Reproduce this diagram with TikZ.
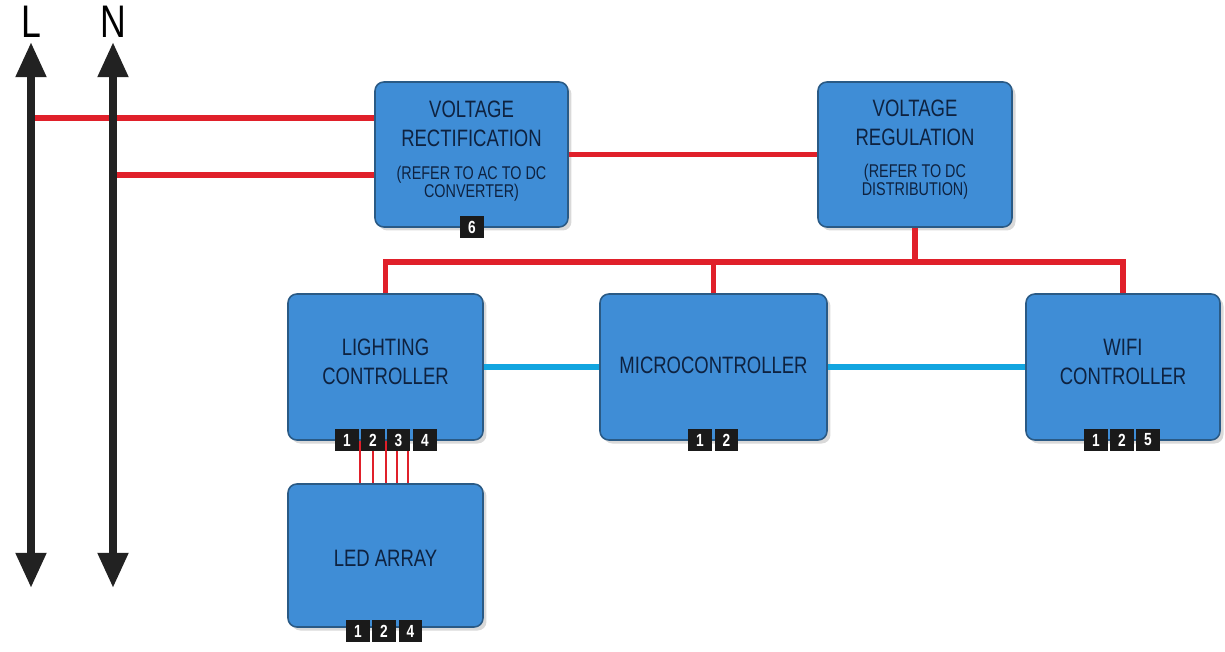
\documentclass[tikz,border=0pt]{standalone}
\usepackage{fontspec}
\setmainfont[FakeStretch=0.78]{Liberation Sans}
\usetikzlibrary{arrows.meta,shadows}
\definecolor{boxblue}{HTML}{3F8DD6}
\definecolor{boxedge}{HTML}{2A5A85}
\definecolor{wirered}{HTML}{E0202A}
\definecolor{wireblue}{HTML}{12A5E0}
\definecolor{txtnavy}{HTML}{0E2240}
\definecolor{badgeblack}{HTML}{1A1A1A}
\definecolor{busblack}{HTML}{222222}
\begin{document}
\begin{tikzpicture}[x=0.02cm,y=-0.02cm,
 block/.style={draw=boxedge, line width=0.9pt, fill=boxblue, rounded corners=5pt,
   drop shadow={opacity=0.3,shadow xshift=2pt,shadow yshift=-2pt}, inner sep=0pt},
 maintext/.style={text=txtnavy, font=\fontsize{13.5}{16.4}\selectfont, align=center, inner sep=0pt},
 subtext/.style={text=txtnavy, font=\fontsize{10.5}{10.3}\selectfont, align=center, inner sep=0pt},
 badge/.style={fill=badgeblack, text=white, font=\bfseries\fontsize{10}{10}\selectfont,
   minimum width=13.2pt, minimum height=12.5pt, inner sep=0pt},
 redwire/.style={draw=wirered, line width=3.4pt},
 bluewire/.style={draw=wireblue, line width=3.4pt},
 thinwire/.style={draw=wirered, line width=0.8pt},
 bus/.style={line width=4.5pt, draw=busblack,
   {Triangle[length=20pt,width=16.5pt]}-{Triangle[length=20pt,width=16.5pt]}},
 buslabel/.style={text=black, font=\fontsize{26}{26}\selectfont, inner sep=0pt},
]
\useasboundingbox (0,0) rectangle (1225,652);

% boxes
\node[block, minimum width=3.86cm, minimum height=2.9cm] (vr) at (471.5,154.5) {};
\node[block, minimum width=3.88cm, minimum height=2.9cm] (vg) at (915,154.5) {};
\node[block, minimum width=3.9cm, minimum height=2.92cm] (lc) at (385.5,367) {};
\node[block, minimum width=4.54cm, minimum height=2.92cm] (mc) at (713.5,367) {};
\node[block, minimum width=3.88cm, minimum height=2.92cm] (wc) at (1123,367) {};
\node[block, minimum width=3.9cm, minimum height=2.86cm] (led) at (385.5,555.5) {};

% texts
\node[maintext] (vrT) at (471.5,123.5) {VOLTAGE\\RECTIFICATION};
\node[subtext] (vrS) at (471.5,184) {(REFER TO AC TO DC\\CONVERTER)};
\node[maintext] (vgT) at (915,123) {VOLTAGE\\REGULATION};
\node[subtext] (vgS) at (915,182) {(REFER TO DC\\DISTRIBUTION)};
\node[maintext] (lcT) at (385.5,362) {LIGHTING\\CONTROLLER};
\node[maintext] (mcT) at (713.5,365) {MICROCONTROLLER};
\node[maintext] (wcT) at (1123,362) {WIFI\\CONTROLLER};
\node[maintext] (ledT) at (385.5,558) {LED ARRAY};

% bus labels and coordinates
\node[buslabel] (Llab) at (31,22) {L};
\node[buslabel] (Nlab) at (113,22) {N};
\coordinate (Ltop) at (31,42);
\coordinate (Lbot) at (31,588);
\coordinate (Ntop) at (113,42);
\coordinate (Nbot) at (113,588);
\coordinate (L1) at (31,118);
\coordinate (N1) at (113,175);
\coordinate (busy) at (0,262);

% red power wires
\draw[redwire] (L1) -- (L1 -| vr.west);
\draw[redwire] (N1) -- (N1 -| vr.west);
\draw[redwire] (vr.east) -- (vg.west);
\draw[redwire] (vg.south) -- (vg.south |- busy);
\draw[redwire, line join=miter] (lc.north) -- (lc.north |- busy) -| (wc.north);
\draw[redwire] (mc.north) -- (mc.north |- busy);

% blue data wires
\draw[bluewire] (lc.east) -- (lc.east -| mc.west);
\draw[bluewire] (mc.east) -- (mc.east -| wc.west);

% thin wires lighting -> LED
\foreach \d in {-25.5,-12.5,0.5,11.5,22.5}
  \draw[thinwire] ([shift={(\d,0)}]lc.south) -- ([shift={(\d,0)}]led.north);

% L and N buses
\draw[bus] (Ltop) -- (Lbot);
\draw[bus] (Ntop) -- (Nbot);

% badges
\node[badge] (vr6) at (472,227) {6};
\node[badge] (lc1) at (347,440) {1};
\node[badge] (lc2) at (373,440) {2};
\node[badge] (lc3) at (398.5,440) {3};
\node[badge] (lc4) at (425,440) {4};
\node[badge] (mc1) at (700,440) {1};
\node[badge] (mc2) at (726.5,440) {2};
\node[badge] (wc1) at (1096,440) {1};
\node[badge] (wc2) at (1122,440) {2};
\node[badge] (wc5) at (1148,440) {5};
\node[badge] (led1) at (358,631) {1};
\node[badge] (led2) at (384,631) {2};
\node[badge] (led4) at (410.5,631) {4};
\end{tikzpicture}
\end{document}
